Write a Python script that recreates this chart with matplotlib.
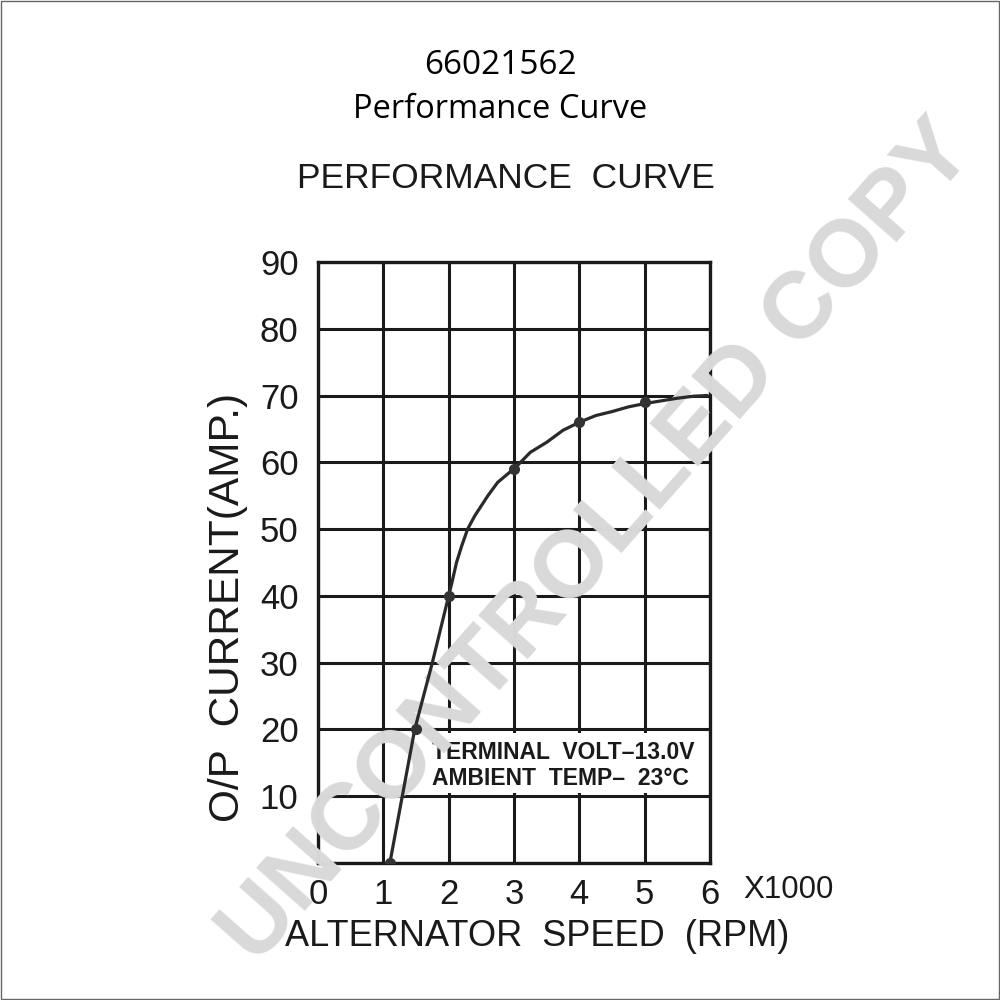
import matplotlib.pyplot as plt
from matplotlib.patches import Rectangle

# values (speed in x1000 rpm, current in A)
speed_marks = [1.1, 1.5, 2, 3, 4, 5]
current_marks = [0, 20, 40, 59, 66, 69]

speed_curve = [1.1, 1.48, 1.75, 2, 2.05, 2.12, 2.2, 2.29, 2.4, 2.5, 2.6, 2.75, 3.03,
               3.25, 3.5, 3.75, 4, 4.25, 4.5, 4.75, 5, 5.25, 5.5, 5.75, 5.95]
current_curve = [0, 20, 30, 40, 42, 45, 47.5, 50, 52, 53.5, 55, 57, 59.3,
                 61.5, 63, 64.8, 66, 67, 67.6, 68.3, 68.8, 69.2, 69.6, 69.9, 70]

x_ticks = [0, 1, 2, 3, 4, 5, 6]
y_ticks = [0, 10, 20, 30, 40, 50, 60, 70, 80, 90]
y_labels = ['', '10', '20', '30', '40', '50', '60', '70', '80', '90']

scan_font = ['Liberation Sans', 'DejaVu Sans']
ink = '#1a1a1a'

fig = plt.figure(figsize=(10, 10), dpi=100)
ax = fig.add_axes([0.318, 0.137, 0.392, 0.601])

# curve and dots sit above the watermark, like in the scan
ax.plot(speed_curve, current_curve, color='#2a2a2a', lw=2.3, zorder=3)
ax.plot(speed_marks, current_marks, 'o', color='#333333', ms=7, zorder=4)

ax.set_xlim(0, 6)
ax.set_ylim(0, 90)
ax.set_xticks(x_ticks)
ax.set_yticks(y_ticks)
ax.set_yticklabels(y_labels, family=scan_font, fontsize=25, color=ink)
ax.set_xticklabels([str(t) for t in x_ticks], family=scan_font, fontsize=25, color=ink)
ax.tick_params(axis='y', length=0, pad=14)
ax.tick_params(axis='x', length=0, pad=11)
ax.grid(color=ink, lw=2.2)
for s in ax.spines.values():
    s.set_linewidth(2.4)
    s.set_color(ink)

ax.set_xlabel('ALTERNATOR  SPEED  (RPM)', family=scan_font, fontsize=26,
              color=ink, ha='center', va='center')
ax.xaxis.set_label_coords(0.559, -0.123)
ax.set_ylabel('O/P  CURRENT(AMP.)', family=scan_font, fontsize=30.5,
              color=ink, ha='center', va='center')
ax.yaxis.set_label_coords(-0.2296, 0.426)

# blank area behind the test conditions note
ax.add_patch(Rectangle((1.85, 10.5), 4.1, 9.0, facecolor='white', edgecolor='none', zorder=2))
ax.text(1.74, 16.6, 'TERMINAL  VOLT\u201313.0V', family=scan_font, fontsize=16.5,
        weight='bold', color=ink, va='center', zorder=2.2)
ax.text(1.74, 12.7, 'AMBIENT  TEMP\u2013  23\u00b0C', family=scan_font, fontsize=16.5,
        weight='bold', color=ink, va='center', zorder=2.2)

ax.text(7.2, -4.0, 'X1000', family=scan_font, fontsize=22.5, color=ink,
        ha='center', va='center', clip_on=False, zorder=1.6)

# watermark: over grid, ticks and labels, under the curve
ax.text(0.598, 0.457, 'UNCONTROLLED COPY', transform=fig.transFigure,
        family=['Liberation Sans', 'DejaVu Sans'], fontsize=68, weight='bold',
        color='#d9d9d9', ha='center', va='center', rotation=48.5,
        rotation_mode='anchor', clip_on=False, zorder=2.6)

fig.text(0.506, 0.821, 'PERFORMANCE  CURVE', family=scan_font, fontsize=25.5,
         color=ink, ha='center', va='center')
fig.text(0.5, 0.935, '66021562', family='Open Sans', fontsize=24,
         color='black', ha='center', va='center')
fig.text(0.5, 0.890, 'Performance Curve', family='Open Sans', fontsize=23.5,
         color='black', ha='center', va='center')

fig.add_artist(Rectangle((0.001, 0.001), 0.998, 0.998, transform=fig.transFigure,
                         fill=False, edgecolor='#666666', lw=1))

fig.savefig('out.png', dpi=100)
